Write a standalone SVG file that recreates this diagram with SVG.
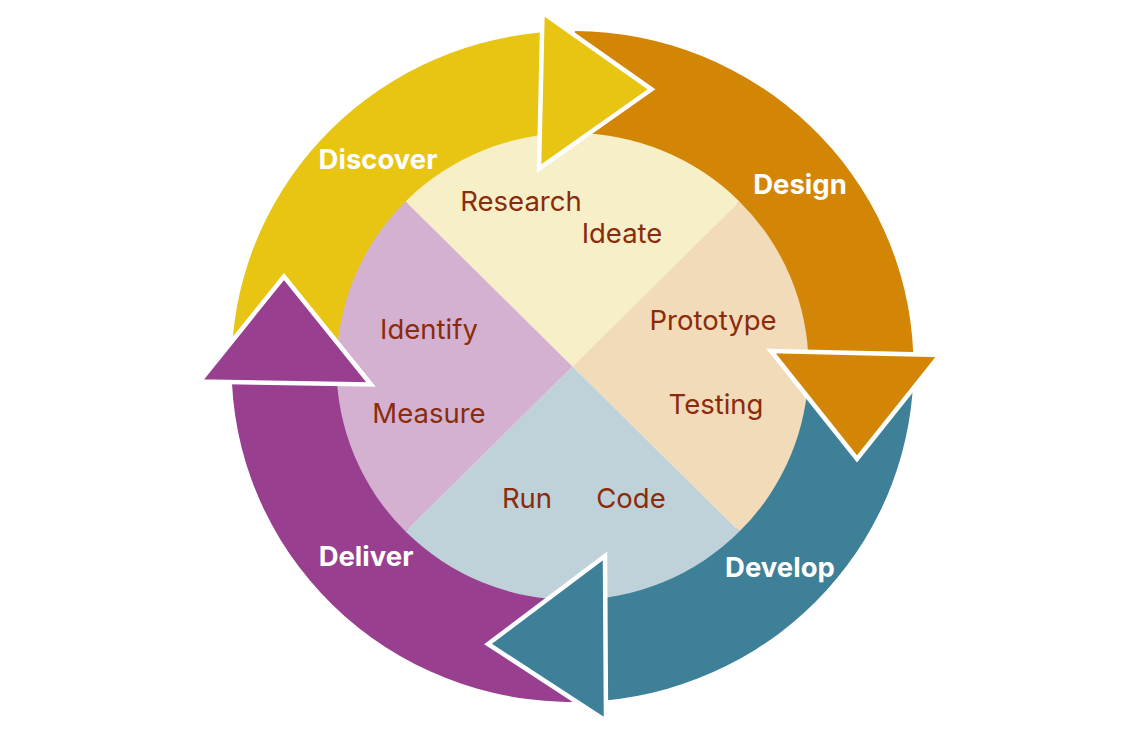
<svg xmlns="http://www.w3.org/2000/svg" width="1148" height="746" viewBox="0 0 1148 746">
<style>
.phase{font-family:Inter,"Liberation Sans",sans-serif;font-weight:700;font-size:27.5px;fill:#ffffff;text-anchor:middle}
.step{font-family:Inter,"Liberation Sans",sans-serif;font-weight:400;font-size:27.5px;fill:#8a2b0c;text-anchor:middle}
.head{stroke:#ffffff;stroke-width:4.5;stroke-linejoin:miter}
</style>
<rect width="1148" height="746" fill="#ffffff"/>
<g id="ring">
<path id="ring-discover" fill="#e8c413" d="M231.5 366.5 A341 335.5 0 0 1 542 32.3 L542 139 A232 229.5 0 0 0 340.5 366.5 Z"/>
<path id="ring-design" fill="#d38506" d="M575 31 A341 335.5 0 0 1 913.3 354.5 L804 352 A232 229.5 0 0 0 575 137 Z"/>
<path id="ring-develop" fill="#3f8099" d="M913.5 362 A341 335.5 0 0 1 605.5 700.4 L605.5 593.7 A232 229.5 0 0 0 804.5 362 Z"/>
<path id="ring-deliver" fill="#983f8f" d="M595 701.3 A341 335.5 0 0 1 231.9 382 L341.2 384 A232 229.5 0 0 0 595 594.9 Z"/>
</g>
<g id="pie">
<path id="q-top" fill="#f7efc7" d="M572.5 366.5 L405.6 201.4 A236 233.5 0 0 1 739.4 201.4 Z"/>
<path id="q-right" fill="#f2dbb9" d="M572.5 366.5 L739.4 201.4 A236 233.5 0 0 1 739.4 531.6 Z"/>
<path id="q-bottom" fill="#bfd2d9" d="M572.5 366.5 L739.4 531.6 A236 233.5 0 0 1 405.6 531.6 Z"/>
<path id="q-left" fill="#d5b1d1" d="M572.5 366.5 L405.6 531.6 A236 233.5 0 0 1 405.6 201.4 Z"/>
</g>
<g id="connectors">
<polygon id="arrow-discover" class="head" fill="#e8c413" points="542.5,12.5 651.5,89.3 539,168.5"/>
<polygon id="arrow-design" class="head" fill="#d38506" points="771,351 940,355 857,459"/>
<polygon id="arrow-develop" class="head" fill="#3f8099" points="605,556 606,721 488,644"/>
<polygon id="arrow-deliver" class="head" fill="#983f8f" points="284,276.5 199.5,381.5 371,384.5"/>
</g>
<g id="node-discover"><text class="phase" x="378" y="169">Discover</text></g>
<g id="node-design"><text class="phase" x="800" y="194">Design</text></g>
<g id="node-develop"><text class="phase" x="780" y="577">Develop</text></g>
<g id="node-deliver"><text class="phase" x="366" y="566">Deliver</text></g>
<g id="node-research"><text class="step" x="521" y="211">Research</text></g>
<g id="node-ideate"><text class="step" x="622" y="243">Ideate</text></g>
<g id="node-prototype"><text class="step" x="713" y="330">Prototype</text></g>
<g id="node-testing"><text class="step" x="716" y="414">Testing</text></g>
<g id="node-identify"><text class="step" x="429" y="339">Identify</text></g>
<g id="node-measure"><text class="step" x="429" y="423">Measure</text></g>
<g id="node-run"><text class="step" x="527" y="508">Run</text></g>
<g id="node-code"><text class="step" x="631" y="508">Code</text></g>
</svg>
